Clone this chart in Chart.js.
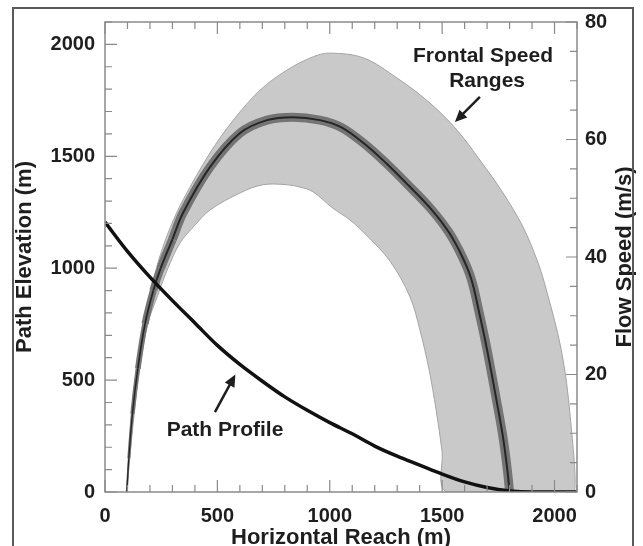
<!DOCTYPE html>
<html>
<head>
<meta charset="utf-8">
<script src="https://cdn.jsdelivr.net/npm/chart.js"></script>
<style>
  html, body { margin: 0; padding: 0; background: #fff; overflow: hidden; }
  #wrap { position: relative; width: 643px; height: 546px; }
  #frame { position: absolute; left: 12px; top: 7px; width: 622px; height: 600px; border: 2px solid #5a5a5a; box-sizing: border-box; pointer-events: none; }
  canvas { position: absolute; left: 0; top: 0; }
</style>
</head>
<body>
<div id="wrap">
  <canvas id="chart" width="643" height="546"></canvas>
  <div id="frame"></div>
</div>
<script>
// tick labels
const reachTicks = [0, 500, 1000, 1500, 2000];
const elevTicks = [0, 500, 1000, 1500, 2000];
const speedTicks = [0, 20, 40, 60, 80];

// path profile (horizontal reach m -> elevation m)
const profileX = [0, 100, 200, 300, 400, 500, 600, 700, 800, 900, 1000, 1100, 1200, 1300, 1400, 1500, 1600, 1700, 1800, 1900, 2000, 2100];
const profileElev = [1206, 1075, 960, 855, 755, 655, 570, 495, 425, 365, 310, 260, 205, 160, 120, 80, 45, 20, 5, 0, 0, 0];

// frontal speed range, outer edge (reach m -> speed m/s)
const outerX = [97, 105, 118, 140, 170, 205, 240, 290, 347, 467, 571, 690, 809, 927, 1000, 1149, 1298, 1446, 1566, 1668, 1771, 1860, 1922, 1955, 2030, 2070, 2088];
const outerSpeed = [0, 5.7, 13.3, 21.0, 28.6, 34.3, 39.6, 45.0, 49.7, 57.7, 63.3, 68.4, 71.8, 74.1, 74.7, 73.9, 70.5, 66.2, 61.6, 56.5, 50.9, 45.1, 39.5, 35.6, 24.2, 12.8, 0];

// inner edge, from right back to left
const innerX = [1522, 1499, 1473, 1442, 1401, 1357, 1268, 1166, 1090, 1014, 925, 868, 810, 703, 601, 467, 400, 334, 280, 235, 190, 155, 130, 110, 97];
const innerSpeed = [0, 7.1, 14.0, 20.8, 27.6, 33.2, 39.3, 43.6, 46.3, 48.3, 51.1, 51.9, 52.3, 52.3, 50.9, 48.0, 45.4, 42.4, 38.1, 33.5, 28.6, 21.0, 13.3, 5.7, 0];

// central frontal speed
const centerX = [97, 106, 122, 146, 178, 215, 248, 300, 347, 467, 601, 721, 836, 956, 1050, 1150, 1250, 1350, 1450, 1530, 1590, 1630, 1665, 1700, 1740, 1770, 1790, 1800];
const centerSpeed = [0, 5.7, 13.3, 21.0, 28.6, 34.3, 38.1, 43.0, 47.5, 55.3, 61.1, 63.3, 63.8, 63.3, 62.1, 59.4, 56.0, 52.2, 48.2, 44.2, 40.0, 36.2, 30.5, 24.2, 16.0, 9.5, 3.8, 0];

const FONT = 'Liberation Sans, Arial, Helvetica, sans-serif';
const pts = (xs, ys) => xs.map((x, i) => ({x: x, y: ys[i]}));

// the band narrows on the rising left limb near the ground
const taper = (full, thin) => ctx => {
  const x = ctx.p0.parsed.x, y = Math.min(ctx.p0.parsed.y, ctx.p1.parsed.y);
  if (x > 600 || y >= 40) return full;
  return thin + (full - thin) * y / 40;
};

const decor = {
  id: 'decor',
  afterDatasetsDraw(chart) {
    const {ctx, chartArea: a, scales} = chart;
    ctx.save();
    // inward ticks
    ctx.strokeStyle = '#8a8a8a';
    ctx.lineWidth = 1.2;
    ctx.beginPath();
    for (let v = 0; v <= 2100; v += 100) {
      const px = scales.x.getPixelForValue(v);
      const len = v % 500 === 0 ? 12 : 7;
      ctx.moveTo(px, a.bottom); ctx.lineTo(px, a.bottom - len);
      ctx.moveTo(px, a.top); ctx.lineTo(px, a.top + len);
    }
    for (let v = 0; v <= 2100; v += 100) {
      const py = scales.y.getPixelForValue(v);
      const len = v % 500 === 0 ? 12 : 7;
      ctx.moveTo(a.left, py); ctx.lineTo(a.left + len, py);
    }
    for (let v = 0; v <= 80; v += 5) {
      const py = scales.y2.getPixelForValue(v);
      const len = v % 20 === 0 ? 11 : 7;
      ctx.moveTo(a.right, py); ctx.lineTo(a.right - len, py);
    }
    ctx.stroke();
    ctx.lineWidth = 1.5;
    ctx.strokeRect(a.left, a.top, a.right - a.left, a.bottom - a.top);

    // right axis title, reading bottom to top
    ctx.fillStyle = '#1e1e1e';
    ctx.font = 'bold 22px ' + FONT;
    ctx.textAlign = 'center';
    ctx.textBaseline = 'middle';
    ctx.save();
    ctx.translate(625, (a.top + a.bottom) / 2);
    ctx.rotate(-Math.PI / 2);
    ctx.fillText('Flow Speed (m/s)', 0, 0);
    ctx.restore();

    // annotations
    const X = v => scales.x.getPixelForValue(v);
    const Y = v => scales.y.getPixelForValue(v);
    ctx.font = 'bold 21px ' + FONT;
    ctx.fillText('Frontal Speed', X(1682), Y(1948));
    ctx.fillText('Ranges', X(1700), Y(1836));
    ctx.fillText('Path Profile', X(534), Y(277));

    const arrow = (x1, y1, x2, y2) => {
      const ang = Math.atan2(y2 - y1, x2 - x1);
      const hl = 12, hw = 5.5;
      ctx.strokeStyle = '#1e1e1e';
      ctx.lineWidth = 2.5;
      ctx.beginPath();
      ctx.moveTo(x1, y1);
      ctx.lineTo(x2 - Math.cos(ang) * hl * 0.8, y2 - Math.sin(ang) * hl * 0.8);
      ctx.stroke();
      ctx.beginPath();
      ctx.moveTo(x2, y2);
      ctx.lineTo(x2 - Math.cos(ang) * hl - Math.sin(ang) * hw, y2 - Math.sin(ang) * hl + Math.cos(ang) * hw);
      ctx.lineTo(x2 - Math.cos(ang) * hl + Math.sin(ang) * hw, y2 - Math.sin(ang) * hl - Math.cos(ang) * hw);
      ctx.closePath();
      ctx.fill();
    };
    arrow(X(1668), Y(1765), X(1557), Y(1653));
    arrow(X(489), Y(357), X(580), Y(525));
    ctx.restore();
  }
};

const tickFont = {family: FONT, size: 20, weight: 'bold'};
const plain = v => String(v);

new Chart(document.getElementById('chart'), {
  type: 'scatter',
  data: {
    datasets: [
      {
        label: 'Path Profile',
        data: pts(profileX, profileElev),
        yAxisID: 'y',
        showLine: true,
        borderColor: '#111',
        borderWidth: 3.5,
        pointRadius: 0,
        cubicInterpolationMode: 'monotone',
        order: 0
      },
      {
        label: 'Center speed',
        data: pts(centerX, centerSpeed),
        yAxisID: 'y2',
        showLine: true,
        borderColor: '#262626',
        borderWidth: 2,
        segment: {borderWidth: taper(2, 1.2)},
        pointRadius: 0,
        tension: 0.35,
        clip: 0,
        order: 1
      },
      {
        label: 'Center band',
        data: pts(centerX, centerSpeed),
        yAxisID: 'y2',
        showLine: true,
        borderColor: '#747474',
        borderWidth: 9,
        segment: {borderWidth: taper(9, 2)},
        pointRadius: 0,
        tension: 0.35,
        clip: 0,
        order: 2
      },
      {
        label: 'Frontal Speed Ranges',
        data: pts(outerX, outerSpeed).concat(pts(innerX, innerSpeed)),
        yAxisID: 'y2',
        showLine: true,
        fill: 'shape',
        backgroundColor: '#c9c9c9',
        borderColor: '#a4a4a4',
        borderWidth: 1,
        pointRadius: 0,
        tension: 0.35,
        clip: 0,
        order: 3
      }
    ]
  },
  options: {
    responsive: false,
    animation: false,
    events: [],
    layout: {padding: {top: 22, left: 0, right: 0, bottom: 0}},
    plugins: {legend: {display: false}, tooltip: {enabled: false}},
    scales: {
      x: {
        type: 'linear',
        position: 'bottom',
        min: 0, max: 2100,
        afterBuildTicks: s => { s.ticks = reachTicks.map(v => ({value: v})); },
        afterFit: s => { s.height = 54; },
        grid: {drawOnChartArea: false, drawTicks: false},
        border: {display: false},
        ticks: {font: tickFont, color: '#1e1e1e', padding: 12, maxRotation: 0, callback: plain},
        title: {display: true, text: 'Horizontal Reach (m)', color: '#1e1e1e',
                font: {family: FONT, size: 22, weight: 'bold', lineHeight: 1}, padding: {top: 0, bottom: -3}}
      },
      y: {
        type: 'linear',
        position: 'left',
        min: 0, max: 2100,
        afterBuildTicks: s => { s.ticks = elevTicks.map(v => ({value: v})); },
        afterFit: s => { s.width = 105; },
        grid: {drawOnChartArea: false, drawTicks: false},
        border: {display: false},
        ticks: {font: tickFont, color: '#1e1e1e', padding: 10, callback: plain},
        title: {display: true, text: 'Path Elevation (m)', color: '#1e1e1e',
                font: {family: FONT, size: 22, weight: 'bold', lineHeight: 1}, padding: {top: 14, bottom: 0}}
      },
      y2: {
        type: 'linear',
        position: 'right',
        min: 0, max: 80,
        afterBuildTicks: s => { s.ticks = speedTicks.map(v => ({value: v})); },
        afterFit: s => { s.width = 66; },
        grid: {drawOnChartArea: false, drawTicks: false},
        border: {display: false},
        ticks: {font: tickFont, color: '#1e1e1e', padding: 8, callback: plain}
      }
    }
  },
  plugins: [decor]
});
</script>
</body>
</html>
